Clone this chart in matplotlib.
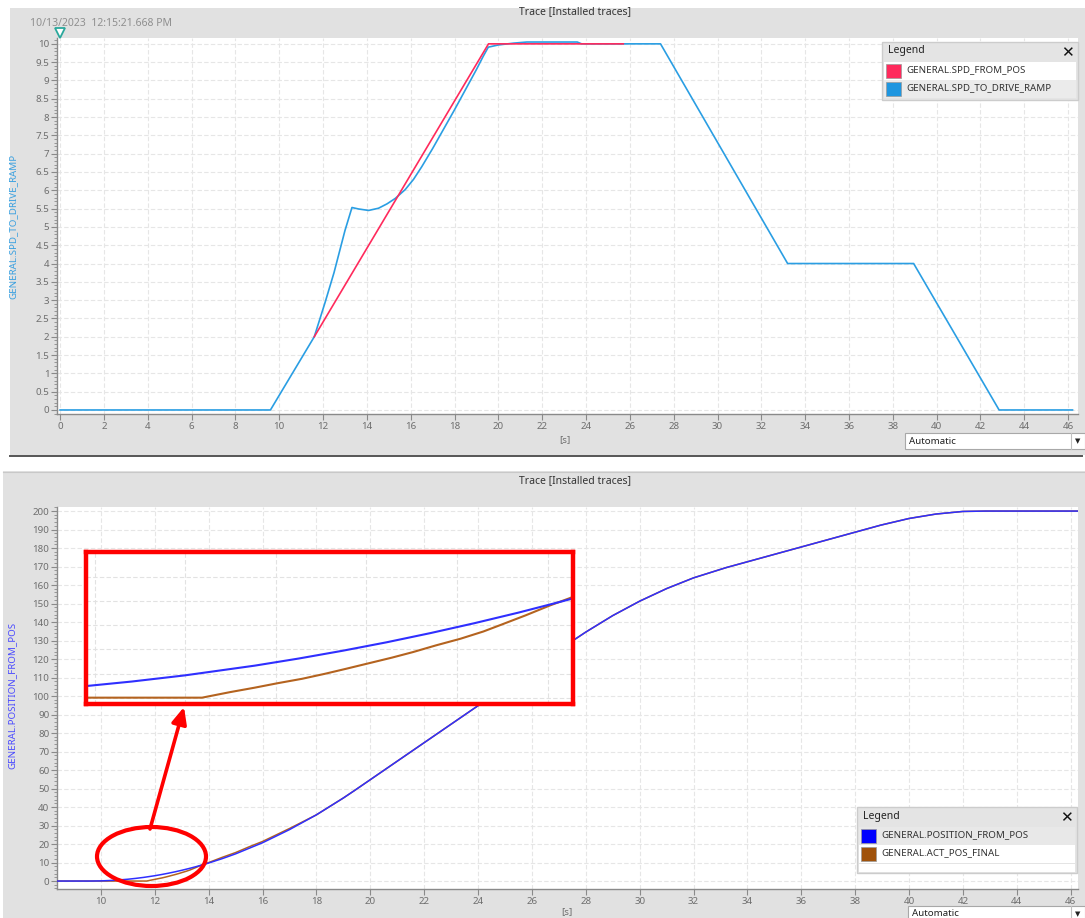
import numpy as np
import matplotlib
matplotlib.use("Agg")
import matplotlib.pyplot as plt
from matplotlib.patches import Rectangle, Ellipse
from matplotlib.ticker import MultipleLocator, FuncFormatter

plt.rcParams["font.family"] = ["Noto Sans", "DejaVu Sans"]

# ---------------------------------------------------------------------
# Datos
# ---------------------------------------------------------------------
# Traza 1: velocidades [s] -> valor
spd_ramp_t = [0.0, 9.6, 11.6, 12.1, 12.5, 13.0, 13.32, 13.62, 14.08, 14.53, 14.92,
              15.3, 15.75, 16.13, 16.5, 17.0, 17.5, 18.0, 18.5, 19.0, 19.3, 19.54,
              20.0, 20.7, 21.3, 23.6, 23.8, 27.4, 33.2, 38.95, 42.85, 46.2]
spd_ramp_v = [0.0, 0.0, 2.0, 2.95, 3.75, 4.9, 5.53, 5.49, 5.45, 5.51, 5.63,
              5.78, 6.02, 6.3, 6.64, 7.14, 7.67, 8.2, 8.75, 9.3, 9.65, 9.91,
              9.97, 10.02, 10.05, 10.05, 10.0, 10.0, 4.0, 4.0, 0.0, 0.0]

spd_pos_t = [11.6, 19.55, 25.7]
spd_pos_v = [2.0, 10.0, 10.0]

# Traza 2: posiciones
pos_t = [8.37, 9.6, 10.0, 10.5, 11.0, 11.3, 11.6, 12.0, 12.25, 12.5, 12.75, 13.0,
         13.25, 13.5, 13.75, 14.0, 14.5, 15.0, 16.0, 17.0, 18.0, 19.0, 19.4, 20.0,
         22.0, 24.0, 26.0, 27.4, 28.0, 29.0, 30.0, 31.0, 32.0, 33.2, 36.0, 38.95,
         40.0, 41.0, 42.0, 42.85, 46.27]
pos_v = [0.0, 0.0, 0.08, 0.4, 0.98, 1.45, 2.0, 2.88, 3.52, 4.22, 4.98, 5.81,
         6.7, 7.65, 8.67, 9.75, 12.1, 14.7, 20.7, 27.8, 35.8, 44.9, 48.8, 54.8,
         74.8, 94.8, 114.8, 128.8, 134.6, 143.5, 151.3, 158.1, 163.9, 169.4, 180.6, 192.4,
         196.0, 198.4, 199.8, 200.0, 200.0]

act_t_early = [8.37, 11.7, 11.86, 12.0, 12.13, 12.27, 12.4, 12.52, 12.65, 12.78, 12.9,
               13.03, 13.17, 13.3, 13.4, 13.54, 13.68, 13.8,
               14.0, 14.5, 15.0, 15.5, 16.0, 16.5, 17.0, 17.5]
act_v_early = [0.0, 0.0, 0.5, 0.9, 1.3, 1.7, 2.15, 2.6, 3.1, 3.6, 4.1,
               4.7, 5.3, 5.95, 6.55, 7.4, 8.3, 9.0,
               10.0, 12.8, 15.4, 18.5, 21.4, 24.9, 28.4, 32.1]

# tras 18 s la posicion real coincide con la consigna
act_t = act_t_early + [t for t in pos_t if t >= 18.0]
act_v = act_v_early + [v for t, v in zip(pos_t, pos_v) if t >= 18.0]

C_RED = "#ff2a5c"
C_CYAN = "#2a9ee3"
C_BLUE = "#2f2fff"
C_BROWN = "#b4631f"
C_PANEL = "#e1e1e1"
C_GRID = "#e6e6e6"
C_TICK = "#6e6e6e"

W, H = 1085, 918


def box(x0, y0, x1, y1):
    """Rectangulo en pixeles (origen arriba-izq) -> fraccion de figura."""
    return [x0 / W, 1 - y1 / H, (x1 - x0) / W, (y1 - y0) / H]


def style_axis(ax):
    for s in ["top", "right"]:
        ax.spines[s].set_visible(False)
    for s in ["left", "bottom"]:
        ax.spines[s].set_color("#8a8a8a")
        ax.spines[s].set_linewidth(1.0)
    ax.tick_params(which="major", length=4, color="#8a8a8a", labelsize=7,
                   labelcolor=C_TICK, pad=1.5)
    ax.tick_params(which="minor", length=2, color="#8a8a8a")
    ax.tick_params(axis="x", which="minor", length=0)
    ax.grid(True, which="major", color=C_GRID, linestyle=(0, (4, 2)), linewidth=0.8)
    ax.set_axisbelow(True)


fig = plt.figure(figsize=(W / 100, H / 100), dpi=100)

# fondo (paneles grises)
bg = fig.add_axes([0, 0, 1, 1], zorder=0)
bg.set_xlim(0, W)
bg.set_ylim(H, 0)
bg.axis("off")
bg.add_patch(Rectangle((10, 8), W - 10, 447, facecolor=C_PANEL, edgecolor="none"))
bg.add_patch(Rectangle((3, 471), W - 3, H - 471, facecolor=C_PANEL, edgecolor="none"))
bg.plot([10, 1082], [456, 456], color="#555555", lw=1.4)
bg.plot([3, W], [471.5, 471.5], color="#c8c8c8", lw=0.8)

# ---------------------------------------------------------------------
# Grafico superior
# ---------------------------------------------------------------------
ax1 = fig.add_axes(box(57, 38, 1078, 414), zorder=1)
ax1.plot(spd_ramp_t, spd_ramp_v, color=C_CYAN, lw=1.2, zorder=3)
ax1.plot(spd_pos_t, spd_pos_v, color=C_RED, lw=1.2, zorder=4)
ax1.set_xlim(-0.14, 46.45)
ax1.set_ylim(-0.11, 10.16)
ax1.xaxis.set_major_locator(MultipleLocator(2))
ax1.yaxis.set_major_locator(MultipleLocator(0.5))
ax1.yaxis.set_minor_locator(MultipleLocator(0.1))
ax1.yaxis.set_major_formatter(FuncFormatter(lambda v, p: f"{v:g}"))
style_axis(ax1)

# ---------------------------------------------------------------------
# Grafico inferior
# ---------------------------------------------------------------------
ax2 = fig.add_axes(box(57, 507, 1078, 889), zorder=1)
ax2.plot(act_t, act_v, color=C_BROWN, lw=1.1, zorder=3)
ax2.plot(pos_t, pos_v, color=C_BLUE, lw=1.1, zorder=4)
ax2.set_xlim(8.37, 46.27)
ax2.set_ylim(-4.3, 202.2)
ax2.xaxis.set_major_locator(MultipleLocator(2))
ax2.yaxis.set_major_locator(MultipleLocator(10))
ax2.yaxis.set_minor_locator(MultipleLocator(2))
style_axis(ax2)

# ---------------------------------------------------------------------
# Capa de anotaciones (pixeles)
# ---------------------------------------------------------------------
ov = fig.add_axes([0, 0, 1, 1], zorder=5)
ov.set_xlim(0, W)
ov.set_ylim(H, 0)
ov.axis("off")
ov.patch.set_alpha(0)

title_kw = dict(ha="center", va="center", fontsize=7.5, fontweight="bold", color="#333333")
ov.text(575, 12, "Trace [Installed traces]", **title_kw)
ov.text(575, 481, "Trace [Installed traces]", **title_kw)
ov.text(30, 23, "10/13/2023  12:15:21.668 PM", ha="left", va="center",
        fontsize=7.5, color="#8f8f8f")
ov.plot([60], [33], marker="v", ms=7, mfc="white", mec="#2aa89c", mew=1.3, clip_on=False)

ov.text(13, 226, "GENERAL.SPD_TO_DRIVE_RAMP", rotation=90, ha="center", va="center",
        fontsize=7, color="#3aa0e0")
ov.text(12, 695, "GENERAL.POSITION_FROM_POS", rotation=90, ha="center", va="center",
        fontsize=7, color="#4a4aff")
ov.text(565, 440, "[s]", ha="center", va="center", fontsize=7, color=C_TICK)
ov.text(567, 912, "[s]", ha="center", va="center", fontsize=7, color=C_TICK)


def dropdown(x0, y0, x1, y1):
    ov.add_patch(Rectangle((x0, y0), x1 - x0, y1 - y0, facecolor="white",
                           edgecolor="#a8a8a8", lw=0.8))
    ov.plot([x1 - 14, x1 - 14], [y0, y1], color="#c0c0c0", lw=0.8)
    ov.text(x0 + 4, (y0 + y0 + 16) / 2, "Automatic", ha="left", va="center",
            fontsize=7, color="#222222")
    ov.text(x1 - 7, y0 + 8, "▼", ha="center", va="center", fontsize=5,
            color="#222222", family="DejaVu Sans")


dropdown(905, 433, 1085, 449)
dropdown(908, 906, 1085, 924)


def legend_box(x0, y0, x1, y1, rows, row_bgs):
    ov.add_patch(Rectangle((x0, y0), x1 - x0, y1 - y0, facecolor="#e4e4e4",
                           edgecolor="#cccccc", lw=1.0))
    ov.text(x0 + 6, y0 + 9, "Legend", ha="left", va="center", fontsize=7.5,
            fontweight="bold", color="#222222")
    ov.text(x1 - 11, y0 + 11, "✕", ha="center", va="center", fontsize=11,
            fontweight="bold", color="#111111", family="DejaVu Sans")
    ry = y0 + 20
    for (label, color), rbg in zip(rows, row_bgs):
        ov.add_patch(Rectangle((x0 + 2, ry), x1 - x0 - 4, 18, facecolor=rbg,
                               edgecolor="none"))
        ov.add_patch(Rectangle((x0 + 4, ry + 2), 15, 14, facecolor=color,
                               edgecolor="#9a9a9a", lw=0.5))
        ov.text(x0 + 24, ry + 8, label, ha="left", va="center", fontsize=7,
                color="#333333")
        ry += 18


legend_box(882, 42, 1078, 100,
           [("GENERAL.SPD_FROM_POS", C_RED), ("GENERAL.SPD_TO_DRIVE_RAMP", "#1e96e0")],
           ["white", "#ebebeb"])
legend_box(857, 807, 1077, 873,
           [("GENERAL.POSITION_FROM_POS", "#0000ff"), ("GENERAL.ACT_POS_FINAL", "#a0520a")],
           ["#e8e8e8", "white"])
ov.add_patch(Rectangle((859, 864), 216, 8, facecolor="white", edgecolor="none"))

# circulo y flecha
ov.add_patch(Ellipse((151.5, 856.5), 109, 59, fill=False, edgecolor="red", lw=3))
ov.annotate("", xy=(184, 707), xytext=(150, 829),
            arrowprops=dict(arrowstyle="-|>,head_width=0.45,head_length=1.0",
                            color="red", lw=2.6, shrinkA=0, shrinkB=0))

# ---------------------------------------------------------------------
# Recuadro ampliado
# ---------------------------------------------------------------------
ins = fig.add_axes(box(86, 552, 573, 704), zorder=6)
ins.set_facecolor("white")
ins.plot(act_t, act_v, color=C_BROWN, lw=1.5)
ins.plot(pos_t, pos_v, color=C_BLUE, lw=1.5)
ins.set_xlim(11.04, 13.81)
ins.set_ylim(-0.57, 13.1)
ins.set_xticks(np.arange(11.09, 13.8, 0.515))
ins.set_yticks(np.arange(0.0, 13.0, 2.17))
ins.grid(True, color="#e2e2e2", linestyle=(0, (4, 2)), linewidth=0.8)
ins.tick_params(length=0, labelbottom=False, labelleft=False)
for s in ins.spines.values():
    s.set_color("red")
    s.set_linewidth(3.2)

fig.savefig("out.png", dpi=100)
